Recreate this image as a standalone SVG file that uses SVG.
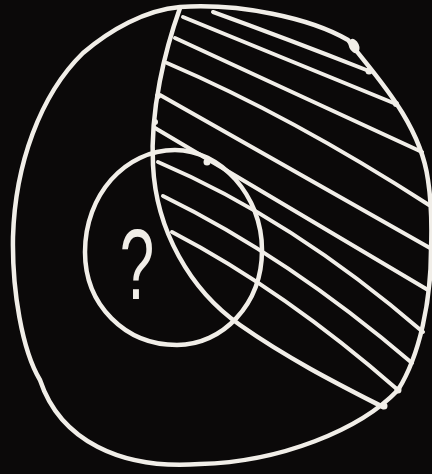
<svg xmlns="http://www.w3.org/2000/svg" width="432" height="474" viewBox="0 0 432 474">
<style>
.ln{fill:none;stroke:#f1eee8;stroke-width:4.5;stroke-linecap:round;stroke-linejoin:round}
.hatch{fill:none;stroke:#f1eee8;stroke-width:4;stroke-linecap:round}
.blob{fill:#f1eee8}
.q{fill:#f1eee8;font-family:"Liberation Sans",Arial,sans-serif;font-size:100px}
</style>
<rect x="0" y="0" width="432" height="474" fill="#0b0909"/>
<g id="outer">
<path class="ln" d="M180,7 C240,3 310,18 348,40 C370,70 420,120 428,180 C431,200 432,225 431,250 C431,300 420,355 398,390 C360,430 280,462 200,464 C120,470 60,440 40,380 C22,350 12,290 13,237 C15,165 40,95 83,53 C110,30 145,10 180,7 Z"/>
<ellipse class="blob" cx="354" cy="46" rx="5" ry="7.5" transform="rotate(-25 354 46)"/>
<circle class="blob" cx="369" cy="71" r="3.5"/>
<circle class="blob" cx="396" cy="104" r="3"/>
<circle class="blob" cx="398" cy="390" r="3.5"/>
<circle class="blob" cx="384" cy="406" r="3.5"/>
</g>
<g id="divider">
<path class="ln" d="M180,8 C165,50 150,110 153,165 C156,230 190,290 240,325 C290,360 340,385 383,407"/>
<circle class="blob" cx="158" cy="96" r="3"/>
<circle class="blob" cx="155" cy="122" r="3"/>
</g>
<g id="hatching">
<path class="hatch" d="M213,12 Q285,38 369,71"/>
<path class="hatch" d="M183,17 L396,104"/>
<path class="hatch" d="M175,38 L422,152"/>
<path class="hatch" d="M167,63 Q291,116 429,205"/>
<path class="hatch" d="M160,95 L430,248"/>
<path class="hatch" d="M155,128 L428,290"/>
<path class="hatch" d="M158,162 Q292,219 423,332"/>
<path class="hatch" d="M163,196 Q288,257 412,363"/>
<path class="hatch" d="M172,232 Q285,291 398,390"/>
</g>
<g id="small-circle">
<path class="ln" d="M175,150 C220,150 262,195 262,250 C262,305 222,345 177,345 C125,345 85,305 85,252 C85,195 125,150 175,150 Z"/>
<circle class="blob" cx="207" cy="162" r="3.5"/>
<text class="q" text-anchor="middle" transform="translate(137,299) scale(0.62,1)">?</text>
</g>
</svg>
